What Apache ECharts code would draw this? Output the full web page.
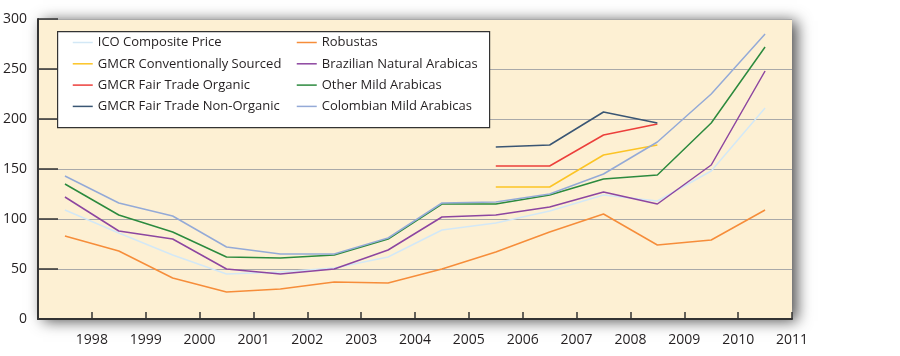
<!DOCTYPE html>
<html>
<head>
<meta charset="utf-8">
<script src="https://cdn.jsdelivr.net/npm/echarts@6/dist/echarts.min.js"></script>
<style>html,body{margin:0;padding:0;background:#fff;}#c{width:900px;height:356px;}</style>
</head>
<body>
<div id="c"></div>
<script>
// Years (each value sits in the middle of its year span)
const years = [1997, 1998, 1999, 2000, 2001, 2002, 2003, 2004, 2005, 2006, 2007, 2008, 2009, 2010];
const yTicks = [0, 50, 100, 150, 200, 250, 300];

const icoComposite = [109, 86, 64, 45, 47, 51, 62, 89, 96, 108, 124, 118, 148, 211];
const robustas = [83, 68, 41, 27, 30, 37, 36, 50, 67, 87, 105, 74, 79, 109];
const brazilian = [122, 88, 80, 50, 45, 50, 69, 102, 104, 112, 127, 115, 154, 248];
const otherMild = [135, 104, 87, 62, 61, 64, 80, 115, 115, 124, 140, 144, 196, 272];
const colombian = [143, 116, 103, 72, 65, 65, 81, 116, 117, 125, 145, 177, 225, 285];
const gmcrConv = [null, null, null, null, null, null, null, null, 132, 132, 164, 174, null, null];
const gmcrFtOrganic = [null, null, null, null, null, null, null, null, 153, 153, 184, 195, null, null];
const gmcrFtNonOrganic = [null, null, null, null, null, null, null, null, 172, 174, 207, 196, null, null];

const names = {
  ico: 'ICO Composite Price',
  conv: 'GMCR Conventionally Sourced',
  org: 'GMCR Fair Trade Organic',
  non: 'GMCR Fair Trade Non-Organic',
  rob: 'Robustas',
  bra: 'Brazilian Natural Arabicas',
  oth: 'Other Mild Arabicas',
  col: 'Colombian Mild Arabicas'
};

function pairs(vals) {
  const out = [];
  vals.forEach((v, i) => { if (v !== null) out.push([years[i] + 0.5, v]); });
  return out;
}
function mk(name, vals, color) {
  return {
    name: name, type: 'line', data: pairs(vals), symbol: 'none',
    lineStyle: { color: color, width: 1.5 }, itemStyle: { color: color },
    emphasis: { disabled: true }, animation: false
  };
}

const FONT = 'Open Sans';
const legendBase = {
  orient: 'vertical', padding: 0, top: 36,
  itemWidth: 20, itemHeight: 14, itemGap: 8.3,
  itemStyle: { opacity: 0 },
  lineStyle: { width: 1.5 },
  textStyle: { fontFamily: FONT, fontSize: 13, color: '#231f20' }
};
const chart = echarts.init(document.getElementById('c'), null, { renderer: 'canvas' });
chart.setOption({
  animation: false,
  backgroundColor: '#ffffff',
  grid: {
    show: true, left: 37, right: 108, top: 19, bottom: 37,
    backgroundColor: '#fdf0d3', borderWidth: 0,
    shadowBlur: 14, shadowColor: 'rgba(0,0,0,0.7)', shadowOffsetX: 5, shadowOffsetY: 2
  },
  graphic: [{
    type: 'rect', z: 3, left: 57, top: 31,
    shape: { width: 432, height: 96 },
    style: { fill: '#ffffff', stroke: '#333333', lineWidth: 1.2 }
  }],
  legend: [
    Object.assign({}, legendBase, { left: 72, data: [names.ico, names.conv, names.org, names.non] }),
    Object.assign({}, legendBase, { left: 296, data: [names.rob, names.bra, names.oth, names.col] })
  ],
  xAxis: {
    type: 'value', min: years[0], max: years[years.length - 1] + 1, interval: 1,
    axisLine: { show: true, lineStyle: { color: '#333', width: 2 } },
    axisTick: { show: true, inside: true, length: 7, lineStyle: { color: '#333', width: 1.5 } },
    splitLine: { show: false },
    axisLabel: {
      margin: 14, fontFamily: FONT, fontSize: 14, color: '#231f20',
      formatter: v => (v === years[0] ? '' : String(v))
    }
  },
  yAxis: {
    type: 'value', min: yTicks[0], max: yTicks[yTicks.length - 1], interval: yTicks[1] - yTicks[0],
    axisLine: { show: true, lineStyle: { color: '#333', width: 2 } },
    axisTick: { show: true, inside: true, length: 20, lineStyle: { color: '#333', width: 1.5 } },
    splitLine: { show: true, lineStyle: { color: '#a9a9a9', width: 1 } },
    axisLabel: { margin: 11, fontFamily: FONT, fontSize: 14, color: '#231f20', padding: [0, 0, 5, 0] }
  },
  series: [
    mk(names.ico, icoComposite, '#d3e8f6'),
    mk(names.conv, gmcrConv, '#fcc425'),
    mk(names.org, gmcrFtOrganic, '#ec3f3b'),
    mk(names.non, gmcrFtNonOrganic, '#3a5674'),
    mk(names.rob, robustas, '#f68d3a'),
    mk(names.bra, brazilian, '#8d46a0'),
    mk(names.oth, otherMild, '#2c8a3e'),
    mk(names.col, colombian, '#94aad7')
  ]
});
</script>
</body>
</html>
